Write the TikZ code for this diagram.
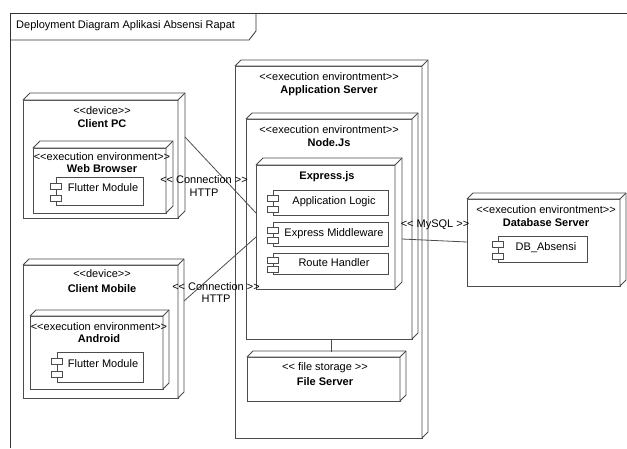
\documentclass[tikz,border=0pt]{standalone}
\usepackage{fontspec}
\setmainfont{Liberation Sans}
\usetikzlibrary{calc}
\definecolor{linec}{gray}{0.3}
\tikzset{
  every node/.style={font=\fontsize{11}{13}\selectfont, inner sep=0pt, text=black},
  ln/.style={draw=linec, line width=0.8pt},
  frontbox/.style={ln, fill=white, anchor=north west, inner sep=0pt, outer sep=0pt},
  compbox/.style={ln, fill=white, anchor=north west, inner sep=0pt, outer sep=0pt},
  bold/.style={font=\fontsize{11}{13}\selectfont\bfseries},
}
\newcommand\boxthreed[6]{%
  \node[frontbox, minimum width={(#4-#2)*1pt}, minimum height={(#5-#3)*1pt}] (#1) at (#2,#3) {};
  \draw[ln, fill=white, line join=round] (#1.north west) -- ++(#6,-#6) -- ([shift={(#6,-#6)}]#1.north east) -- ([shift={(#6,-#6)}]#1.south east) -- (#1.south east) -- (#1.north east) -- cycle;
  \draw[ln] (#1.north east) -- ++(#6,-#6);
}
\newcommand\compnode[5]{%
  \node[compbox, minimum width={(#4-#2)*1pt}, minimum height={(#5-#3)*1pt}] (#1) at (#2,#3) {};
  \draw[ln, fill=white] ($(#1.north west)!0.22!(#1.south west)+(-6,0)$) rectangle ++(11,6);
  \draw[ln, fill=white] ($(#1.north west)!0.66!(#1.south west)+(-6,0)$) rectangle ++(11,6);
}
\begin{document}
\begin{tikzpicture}[x=1pt,y=-1pt]
\useasboundingbox (0,0) rectangle (627,448);
% frame
\draw[ln, draw=black!80] (10,448) -- (10,13) -- (627,13);
\draw[ln, draw=black!80] (10,40) -- (249,40) -- (256,31) -- (256,13);
\node[anchor=west] (title) at (16,26) {Deployment Diagram Aplikasi Absensi Rapat};

% Application server
\boxthreed{app}{235}{66}{422}{438}{6}
\node (appS) at (329,77) {<{}<execution environtment>{}>};
\node[bold] (appN) at (329,91) {Application Server};

\boxthreed{njs}{246}{119}{412}{339}{6}
\node (njsS) at (329,130) {<{}<execution environtment>{}>};
\node[bold] (njsN) at (329,143) {Node.Js};

\boxthreed{exp}{256}{165}{395}{289}{7}
\node[bold] (expN) at (327,177) {Express.js};

\compnode{alg}{273}{190}{388}{215}
\node (algT) at (334,202) {Application Logic};
\compnode{emw}{273}{222}{388}{246}
\node (emwT) at (334,234) {Express Middleware};
\compnode{rth}{273}{253}{388}{274}
\node (rthT) at (334,263) {Route Handler};

\boxthreed{fsv}{247}{357}{400}{401}{6}
\node (fsvS) at (325,368) {<{}< file storage >{}>};
\node[bold] (fsvN) at (325,382) {File Server};

% Client PC
\boxthreed{cpc}{23}{100}{178}{218}{7}
\node (cpcS) at (102,111) {<{}<device>{}>};
\node[bold] (cpcN) at (102,124) {Client PC};
\boxthreed{wb}{33}{148}{166}{213}{7}
\node (wbS) at (102,157) {<{}<execution environment>{}>};
\node[bold] (wbN) at (102,169) {Web Browser};
\compnode{fm1}{56}{177}{143}{205}
\node (fm1T) at (103,188) {Flutter Module};

% Client Mobile
\boxthreed{cmb}{23}{265}{178}{398}{6}
\node (cmbS) at (102,274) {<{}<device>{}>};
\node[bold] (cmbN) at (102,289) {Client Mobile};
\boxthreed{and}{30}{316}{163}{389}{6}
\node (andS) at (99,327) {<{}<execution environment>{}>};
\node[bold] (andN) at (99,339) {Android};
\compnode{fm2}{57}{352}{143}{382}
\node (fm2T) at (103,364) {Flutter Module};

% Database server
\boxthreed{dbs}{467}{199}{620}{286}{6}
\node (dbsS) at (546,210) {<{}<execution environtment>{}>};
\node[bold] (dbsN) at (546,223) {Database Server};
\compnode{dba}{498}{236}{587}{262}
\node (dbaT) at (546,248) {DB\_Absensi};

% connectors
\coordinate (fstop) at ([yshift=5pt]fsv.north);
\draw[ln] ($(njs.south)+(2,0)$) -- ($(njs.south |- fstop)+(2,0)$);
\draw[ln] ([shift={(7,37)}]cpc.north east) -- ([shift={(0,48)}]exp.north west);
\draw[ln] ([shift={(6,36)}]cmb.north east) -- ([shift={(0,72)}]exp.north west);
\draw[ln] ([shift={(7,74)}]exp.north east) -- ([shift={(0,43)}]dbs.north west);

% labels
\node (l1a) at (204,180) {<{}< Connection >{}>};
\node (l1b) at (204,193) {HTTP};
\node (l2a) at (216,287) {<{}< Connection >{}>};
\node (l2b) at (216,299) {HTTP};
\node (l3) at (435,225) {<{}< MySQL >{}>};
\end{tikzpicture}
\end{document}
